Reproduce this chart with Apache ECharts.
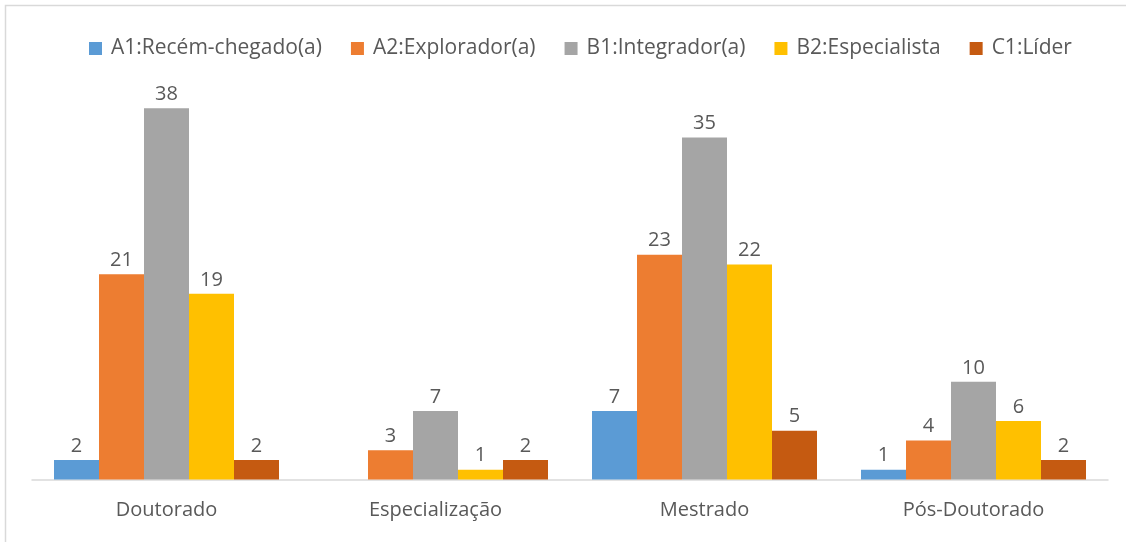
<!DOCTYPE html>
<html>
<head>
<meta charset="utf-8">
<script src="https://cdn.jsdelivr.net/npm/echarts@6/dist/echarts.min.js"></script>
<style>html,body{margin:0;padding:0;background:#fff}#c{width:1126px;height:542px}</style>
</head>
<body>
<div id="c"></div>
<script>
const categories = ['Doutorado', 'Especialização', 'Mestrado', 'Pós-Doutorado'];
const seriesNames = ['A1:Recém-chegado(a)', 'A2:Explorador(a)', 'B1:Integrador(a)', 'B2:Especialista', 'C1:Líder'];
const a1 = [2, 0, 7, 1];
const a2 = [21, 3, 23, 4];
const b1 = [38, 7, 35, 10];
const b2 = [19, 1, 22, 6];
const c1 = [2, 2, 5, 2];
const colors = ['#5B9BD5', '#ED7D31', '#A5A5A5', '#FFC000', '#C55A11'];
const allData = [a1, a2, b1, b2, c1];
const FONT = 'Open Sans';
const chart = echarts.init(document.getElementById('c'), null, {renderer: 'canvas'});
chart.setOption({
  animation: false,
  backgroundColor: '#fff',
  graphic: [{
    type: 'rect', shape: {x: 5.5, y: 5.5, width: 1130, height: 550},
    style: {fill: 'none', stroke: '#d9d9d9', lineWidth: 1.5}, silent: true
  }],
  legend: {
    top: 33, left: 84, itemWidth: 13, itemHeight: 13, itemGap: 29,
    icon: 'rect',
    textStyle: {color: '#595959', fontSize: 21, fontFamily: FONT, padding: [0, 0, 0, 4]}
  },
  grid: {left: 32, right: 18, top: 88.7, bottom: 62.5, containLabel: false},
  xAxis: {
    type: 'category', data: categories,
    axisLine: {lineStyle: {color: '#d9d9d9', width: 1.5}},
    axisTick: {show: false},
    axisLabel: {color: '#595959', fontSize: 20, fontFamily: FONT, margin: 21}
  },
  yAxis: {type: 'value', min: 0, max: 40, show: false, splitLine: {show: false}},
  series: allData.map((d, i) => ({
    name: seriesNames[i], type: 'bar', data: d, barWidth: 45, barGap: '0%',
    itemStyle: {color: colors[i]},
    label: {show: true, position: 'top', distance: 4, color: '#595959', fontSize: 20, fontFamily: FONT,
      formatter: p => p.value === 0 ? '' : String(p.value)}
  }))
});
</script>
</body>
</html>
